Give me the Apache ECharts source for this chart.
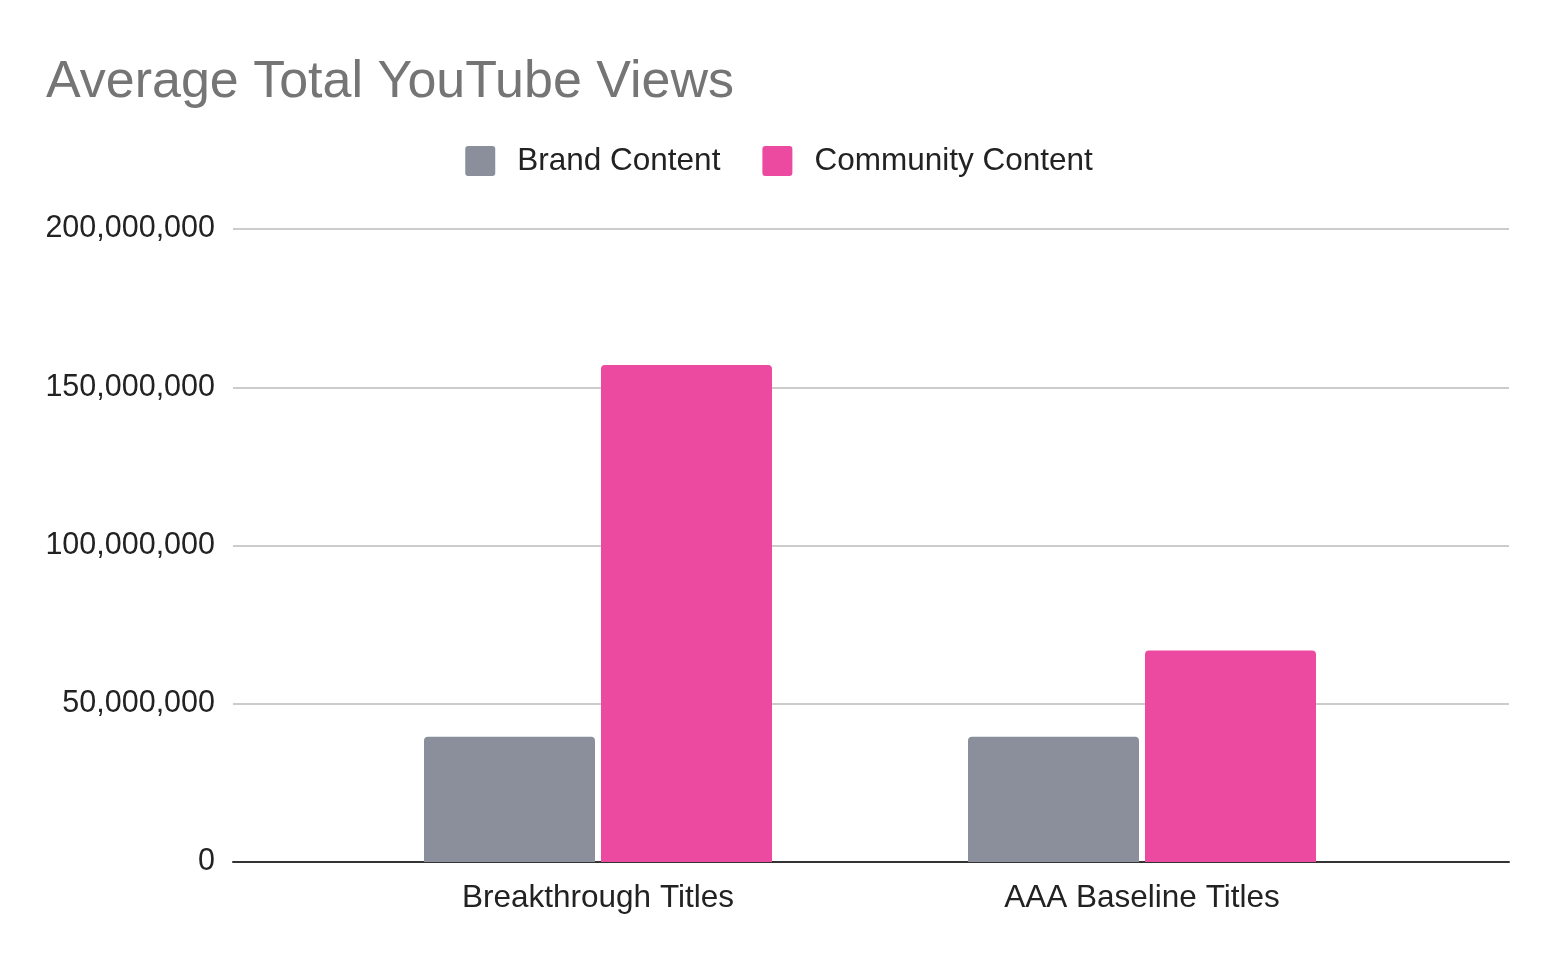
<!DOCTYPE html>
<html lang="en">
<head>
    <meta charset="UTF-8">
    <title>Average Total YouTube Views</title>
    <style>
        html, body { margin: 0; padding: 0; background: #fff; }
        #chart { width: 1558px; height: 962px; }
    </style>
    <script src="https://cdn.jsdelivr.net/npm/echarts@6/dist/echarts.min.js"></script>
</head>
<body>
    <div id="chart"></div>
    <script>
        // data
        var categories = ['Breakthrough Titles', 'AAA Baseline Titles'];
        var brandContent = [39600000, 39600000];
        var communityContent = [157000000, 66800000];
        var seriesNames = ['Brand Content', 'Community Content'];

        var font = '"Liberation Sans", Arial, sans-serif';
        var chart = echarts.init(document.getElementById('chart'));

        // square legend marker with small rounded corners
        var legendIcon = 'path://M3,0 H27 Q30,0 30,3 V27 Q30,30 27,30 H3 Q0,30 0,27 V3 Q0,0 3,0 Z';

        var yBase = {
            type: 'value',
            min: 0,
            max: 200000000,
            interval: 50000000
        };

        var option = {
            animation: false,
            color: ['#8a8f9b', '#ec4aa1'],
            title: {
                text: 'Average Total YouTube Views',
                left: 41,
                top: 52,
                textStyle: { fontFamily: font, fontSize: 52, fontWeight: 'normal', color: '#757575' }
            },
            legend: {
                data: seriesNames,
                top: 140,
                left: 'center',
                icon: legendIcon,
                itemWidth: 30,
                itemHeight: 30,
                itemGap: 42,
                textStyle: { fontFamily: font, fontSize: 31.5, color: '#222', padding: [0, 0, 0, 17] }
            },
            // grid 0: gridlines and axes; grid 1: the bars (narrower band like the original)
            grid: [
                { left: 233, right: 49, top: 229, bottom: 100 },
                { left: 326, right: 144, top: 229, bottom: 100 }
            ],
            xAxis: [
                {
                    type: 'category', gridIndex: 0, data: categories,
                    axisLine: { lineStyle: { color: '#333', width: 2 } },
                    axisTick: { show: false },
                    axisLabel: { show: false }
                },
                {
                    type: 'category', gridIndex: 1, data: categories,
                    axisLine: { show: false },
                    axisTick: { show: false },
                    axisLabel: { margin: 20, fontFamily: font, fontSize: 31.5, color: '#222' }
                }
            ],
            yAxis: [
                Object.assign({}, yBase, {
                    gridIndex: 0,
                    axisLine: { show: false },
                    axisTick: { show: false },
                    splitLine: { lineStyle: { color: '#cccccc', width: 2 } },
                    axisLabel: {
                        margin: 18, fontFamily: font, fontSize: 30.5, color: '#222',
                        padding: [6, 0, 0, 0],
                        formatter: function (v) { return v.toLocaleString('en-US'); }
                    }
                }),
                Object.assign({}, yBase, {
                    gridIndex: 1,
                    show: false,
                    splitLine: { show: false }
                })
            ],
            series: [
                {
                    name: seriesNames[0], type: 'bar', xAxisIndex: 1, yAxisIndex: 1,
                    data: brandContent, barWidth: 171, barGap: '3.5%',
                    itemStyle: { borderRadius: [4, 4, 0, 0] }
                },
                {
                    name: seriesNames[1], type: 'bar', xAxisIndex: 1, yAxisIndex: 1,
                    data: communityContent, barWidth: 171, barGap: '3.5%',
                    itemStyle: { borderRadius: [4, 4, 0, 0] }
                }
            ]
        };

        chart.setOption(option);
    </script>
</body>
</html>
